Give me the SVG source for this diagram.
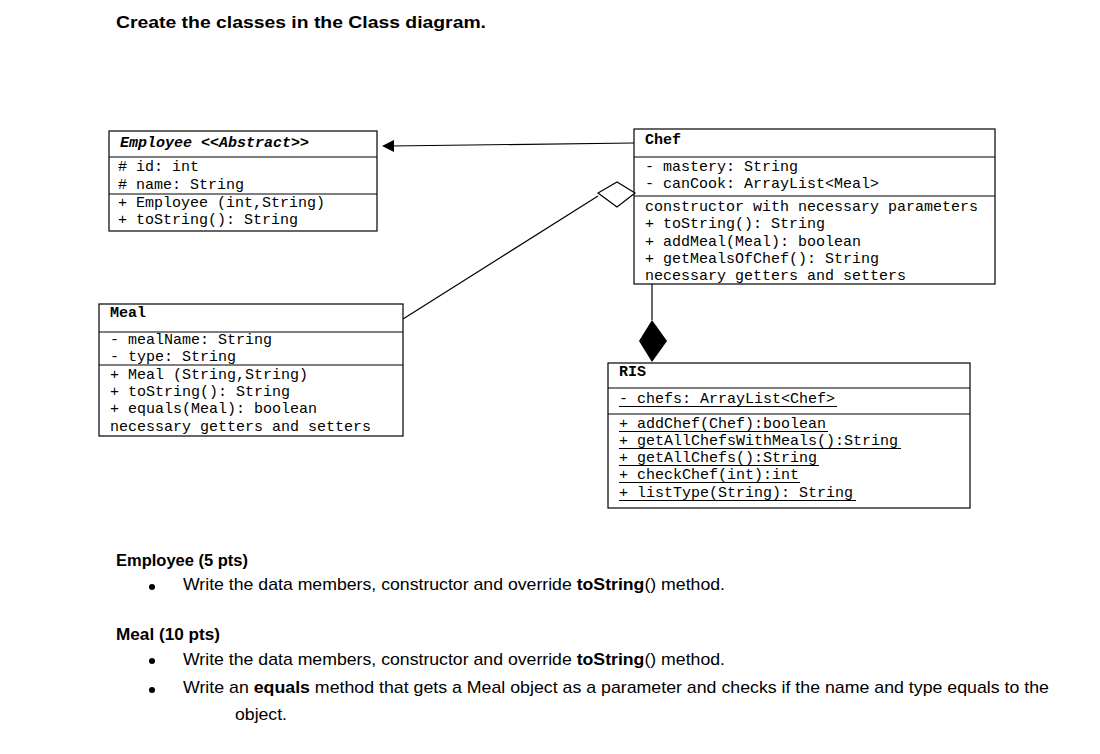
<svg xmlns="http://www.w3.org/2000/svg" width="1100" height="754" viewBox="0 0 1100 754">
<style>
.box{fill:#fff;stroke:#000;stroke-width:1.2}
.ln{stroke:#000;stroke-width:1.2;fill:none}
.ul{stroke:#000;stroke-width:1}
.m{font-family:"Liberation Mono","Courier New",monospace;font-size:15px;fill:#000}
.h{font-weight:bold}
.t{font-family:"Liberation Sans",Arial,sans-serif;font-size:17px;fill:#000}
.b{font-weight:bold}
</style>
<rect width="1100" height="754" fill="#fff"/>
<text class="t b" x="116" y="28" font-size="20" textLength="370" lengthAdjust="spacingAndGlyphs">Create the classes in the Class diagram.</text>

<g id="employee">
<rect class="box" x="109" y="131" width="268" height="100"/>
<line class="ln" x1="109" y1="157" x2="377" y2="157"/>
<line class="ln" x1="109" y1="194" x2="377" y2="194"/>
<text class="m h" x="120" y="147" font-style="italic">Employee &lt;&lt;Abstract&gt;&gt;</text>
<text class="m" x="118" y="171"># id: int</text>
<text class="m" x="118" y="189"># name: String</text>
<text class="m" x="118" y="207">+ Employee (int,String)</text>
<text class="m" x="118" y="224">+ toString(): String</text>
</g>

<g id="chef">
<rect class="box" x="634" y="129" width="361" height="155"/>
<line class="ln" x1="634" y1="157" x2="995" y2="157"/>
<line class="ln" x1="634" y1="196" x2="995" y2="196"/>
<text class="m h" x="645" y="144">Chef</text>
<text class="m" x="645" y="171">- mastery: String</text>
<text class="m" x="645" y="188">- canCook: ArrayList&lt;Meal&gt;</text>
<text class="m" x="645" y="211">constructor with necessary parameters</text>
<text class="m" x="645" y="228">+ toString(): String</text>
<text class="m" x="645" y="246">+ addMeal(Meal): boolean</text>
<text class="m" x="645" y="263">+ getMealsOfChef(): String</text>
<text class="m" x="645" y="280">necessary getters and setters</text>
</g>

<g id="meal">
<rect class="box" x="99" y="304" width="304" height="132"/>
<line class="ln" x1="99" y1="332" x2="403" y2="332"/>
<line class="ln" x1="99" y1="365" x2="403" y2="365"/>
<text class="m h" x="110" y="317">Meal</text>
<text class="m" x="110" y="344">- mealName: String</text>
<text class="m" x="110" y="361">- type: String</text>
<text class="m" x="110" y="379">+ Meal (String,String)</text>
<text class="m" x="110" y="396">+ toString(): String</text>
<text class="m" x="110" y="413">+ equals(Meal): boolean</text>
<text class="m" x="110" y="431">necessary getters and setters</text>
</g>

<g id="ris">
<rect class="box" x="608" y="363" width="362" height="145"/>
<line class="ln" x1="608" y1="388" x2="970" y2="388"/>
<line class="ln" x1="608" y1="414" x2="970" y2="414"/>
<text class="m h" x="619" y="376">RIS</text>
<text class="m" x="619" y="403">- chefs: ArrayList&lt;Chef&gt;</text>
<text class="m" x="619" y="428">+ addChef(Chef):boolean</text>
<text class="m" x="619" y="445">+ getAllChefsWithMeals():String</text>
<text class="m" x="619" y="462">+ getAllChefs():String</text>
<text class="m" x="619" y="479">+ checkChef(int):int</text>
<text class="m" x="619" y="497">+ listType(String): String</text>
<line class="ul" x1="619" y1="406.5" x2="837" y2="406.5"/>
<line class="ul" x1="619" y1="431.5" x2="828" y2="431.5"/>
<line class="ul" x1="619" y1="448.5" x2="901" y2="448.5"/>
<line class="ul" x1="619" y1="465.5" x2="819" y2="465.5"/>
<line class="ul" x1="619" y1="482.5" x2="800" y2="482.5"/>
<line class="ul" x1="619" y1="500.5" x2="856" y2="500.5"/>
</g>

<g id="connectors">
<line class="ln" x1="634" y1="143" x2="390" y2="146" stroke-width="2"/>
<polygon points="382,146 394,140 394,152" fill="#000"/>
<line class="ln" x1="598" y1="196" x2="403" y2="319"/>
<polygon points="635,193 617,182 598,193 617,207" fill="#fff" stroke="#000" stroke-width="1.2"/>
<line class="ln" x1="652" y1="284" x2="652" y2="320" stroke-width="1.5"/>
<polygon points="652,320 667,341 652,362 639,341" fill="#000"/>
</g>

<g id="text">
<text class="t b" x="116" y="566" textLength="132" lengthAdjust="spacingAndGlyphs">Employee (5 pts)</text>
<circle cx="152" cy="587" r="3"/>
<text class="t" x="183" y="590" textLength="542" lengthAdjust="spacingAndGlyphs">Write the data members, constructor and override <tspan class="b">toString</tspan>() method.</text>
<text class="t b" x="116" y="640" textLength="104" lengthAdjust="spacingAndGlyphs">Meal (10 pts)</text>
<circle cx="152" cy="661" r="3"/>
<text class="t" x="183" y="665" textLength="542" lengthAdjust="spacingAndGlyphs">Write the data members, constructor and override <tspan class="b">toString</tspan>() method.</text>
<circle cx="152" cy="690" r="3"/>
<text class="t" x="183" y="693" textLength="866" lengthAdjust="spacingAndGlyphs">Write an <tspan class="b">equals</tspan> method that gets a Meal object as a parameter and checks if the name and type equals to the</text>
<text class="t" x="235" y="720" textLength="52" lengthAdjust="spacingAndGlyphs">object.</text>
</g>
</svg>
